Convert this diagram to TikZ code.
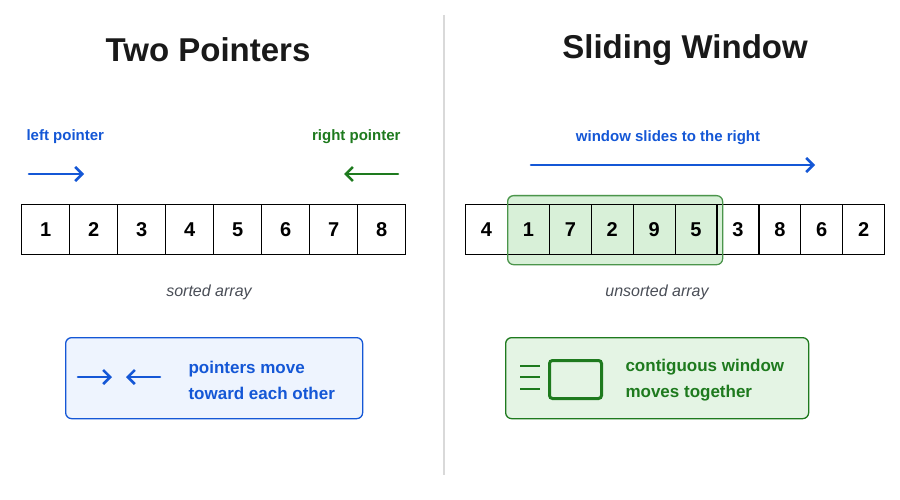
\documentclass[tikz,border=0pt]{standalone}
\usepackage{fontspec}
\setmainfont{Liberation Sans}
\usetikzlibrary{arrows.meta}
\definecolor{pblue}{HTML}{1457D6}
\definecolor{pgreen}{HTML}{1E7A1E}
\definecolor{gfill}{HTML}{D8F0D8}
\definecolor{bfill}{HTML}{EEF4FE}
\definecolor{gtxt}{HTML}{4A4E57}
\tikzset{
  cell/.style={draw=black,line width=1.2pt,minimum width=#1,minimum height=50pt,inner sep=0pt,font=\fontsize{20}{22}\selectfont\bfseries,anchor=north west},
  ttl/.style={font=\fontsize{33}{36}\selectfont\bfseries,text=black!90},
  lbl/.style={font=\fontsize{15}{17}\selectfont\bfseries},
  captxt/.style={font=\fontsize{16}{18}\selectfont\itshape,text=gtxt},
  arr/.style={line width=2.6pt,-{Straight Barb[length=7pt,width=14pt,line width=2.6pt]},line cap=round},
}
\begin{document}
\begin{tikzpicture}[x=1pt,y=-1pt]
\useasboundingbox (0,0) rectangle (900,500);
\fill[white] (0,0) rectangle (900,500);
\draw[black!15,line width=1.2pt] (444,15) -- (444,475);
\node[ttl] (t1) at (208,50) {Two Pointers};
\node[ttl] (t2) at (685,50) {Sliding Window};
% left
\node[lbl,text=pblue,anchor=west] (lp) at (23,137) {left pointer};
\node[lbl,text=pgreen,anchor=east] (rp) at (404,137) {right pointer};
\coordinate (la1) at (29,174); \coordinate (la2) at (84,174);
\coordinate (ra1) at (398,174); \coordinate (ra2) at (344,174);
\draw[arr,pblue] (la1) -- (la2);
\draw[arr,pgreen] (ra1) -- (ra2);
\foreach \v [count=\i from 0] in {1,...,8}
  \node[cell=48pt] (a\i) at (21+48*\i,204) {\v};
\node[captxt] (sa) at (209,292) {sorted array};
\node[draw=pblue,fill=bfill,line width=1.3pt,rounded corners=6pt,minimum width=297pt,minimum height=81pt,anchor=north west] (bx1) at (65,337) {};
\coordinate (b1) at (78,377); \coordinate (b2) at (112,377);
\coordinate (b3) at (160,377); \coordinate (b4) at (126,377);
\draw[arr,pblue] (b1) -- (b2);
\draw[arr,pblue] (b3) -- (b4);
\node[lbl,text=pblue,anchor=west,align=left,font=\fontsize{17}{26}\selectfont\bfseries] (bt1) at (185,380) {pointers move\\toward each other};
% right
\node[lbl,text=pblue] (ws) at (668,138) {window slides to the right};
\coordinate (w1) at (531,165); \coordinate (w2) at (815,165);
\draw[arr,pblue] (w1) -- (w2);
\fill[gfill,rounded corners=6pt] (507,195) rectangle (722,264);
\foreach \v [count=\i from 0] in {4,1,7,2,9,5,3,8,6,2}
  \node[cell=41.9pt] (c\i) at (465+41.9*\i,204) {\v};
\node[draw=pgreen!80,line width=1.3pt,rounded corners=6pt,minimum width=215pt,minimum height=69pt,anchor=north west] (win) at (507,195) {};
\node[captxt] (ua) at (657,292) {unsorted array};
\node[draw=pgreen,fill=gfill!70,line width=1.3pt,rounded corners=6pt,minimum width=303pt,minimum height=81pt,anchor=north west] (bx2) at (505,337) {};
\foreach \yy in {366,377,389}{\draw[pgreen,line width=2pt] (520,\yy) -- (540,\yy);}
\node[draw=pgreen,line width=3pt,rounded corners=3pt,minimum width=52pt,minimum height=38pt,anchor=north west] (ic) at (548,359) {};
\node[lbl,text=pgreen,anchor=west,align=left,font=\fontsize{17}{26}\selectfont\bfseries] (bt2) at (622,380) {contiguous window\\moves together};
\end{tikzpicture}
\end{document}
